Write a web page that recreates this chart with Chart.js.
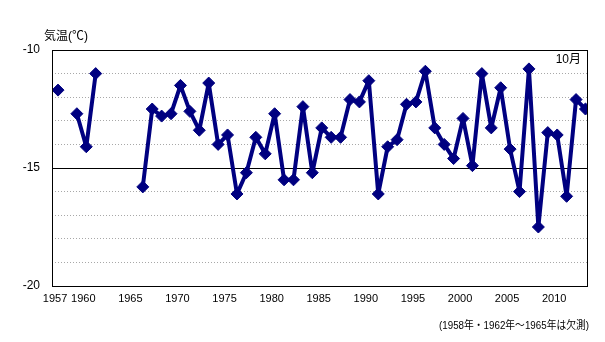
<!DOCTYPE html>
<html>
<head>
<meta charset="utf-8">
<script src="https://cdn.jsdelivr.net/npm/chart.js@4/dist/chart.umd.min.js"></script>
<style>
  html, body { margin: 0; padding: 0; background: #fff; }
  #wrap { width: 605px; height: 342px; position: relative; }
</style>
</head>
<body>
<div id="wrap"><canvas id="c" width="605" height="342"></canvas></div>
<script>
// October mean temperature (°C), 1957–2013; null = no observation
const years = [
  1957, 1958, 1959, 1960, 1961, 1962, 1963, 1964, 1965, 1966,
  1967, 1968, 1969, 1970, 1971, 1972, 1973, 1974, 1975, 1976,
  1977, 1978, 1979, 1980, 1981, 1982, 1983, 1984, 1985, 1986,
  1987, 1988, 1989, 1990, 1991, 1992, 1993, 1994, 1995, 1996,
  1997, 1998, 1999, 2000, 2001, 2002, 2003, 2004, 2005, 2006,
  2007, 2008, 2009, 2010, 2011, 2012, 2013
];
const temps = [
  -11.7, null, -12.7, -14.1, -11.0, null, null, null, null, -15.8,
  -12.5, -12.8, -12.7, -11.5, -12.6, -13.4, -11.4, -14.0, -13.6, -16.1,
  -15.2, -13.7, -14.4, -12.7, -15.5, -15.5, -12.4, -15.2, -13.3, -13.7,
  -13.7, -12.1, -12.2, -11.3, -16.1, -14.1, -13.8, -12.3, -12.2, -10.9,
  -13.3, -14.0, -14.6, -12.9, -14.9, -11.0, -13.3, -11.6, -14.2, -16.0,
  -10.8, -17.5, -13.5, -13.6, -16.2, -12.1, -12.5
];
const xTickYears = [1957, 1960, 1965, 1970, 1975, 1980, 1985, 1990, 1995, 2000, 2005, 2010];
const yTickValues = [-10, -15, -20];
const yAxisTitle = '気温(℃)';
const monthLabel = '10月';
const noteText = '(1958年・1962年～1965年は欠測)';

const NAVY = '#000080';
const FONT_FAMILY = "'Liberation Sans', 'Noto Sans CJK JP', sans-serif";

// frame around the plot area plus the free-standing texts
const decorations = {
  id: 'decorations',
  afterDraw(chart) {
    const { ctx, chartArea: a } = chart;
    ctx.save();
    ctx.strokeStyle = '#000';
    ctx.lineWidth = 1;
    ctx.strokeRect(Math.round(a.left) + 0.5, Math.round(a.top) + 0.5,
                   Math.round(a.right - a.left) - 1, Math.round(a.bottom - a.top));
    ctx.fillStyle = '#000';
    ctx.textBaseline = 'middle';
    ctx.font = "12px " + FONT_FAMILY;
    ctx.textAlign = 'left';
    ctx.fillText(yAxisTitle, 44, 37);
    ctx.textAlign = 'right';
    ctx.fillText(monthLabel, a.right - 7, 60);
    ctx.font = "11px " + FONT_FAMILY;
    ctx.fillText(noteText, 589, 326, 150);
    ctx.restore();
  }
};

new Chart(document.getElementById('c'), {
  type: 'line',
  data: {
    datasets: [{
      data: years.map((y, i) => ({ x: y, y: temps[i] })),
      borderColor: NAVY,
      backgroundColor: NAVY,
      borderWidth: 4,
      borderJoinStyle: 'round',
      borderCapStyle: 'round',
      pointStyle: 'rectRot',
      pointRadius: 6,
      pointBorderWidth: 1,
      pointBorderColor: NAVY,
      pointBackgroundColor: NAVY,
      tension: 0,
      spanGaps: false
    }]
  },
  options: {
    responsive: false,
    animation: false,
    devicePixelRatio: 1,
    layout: { padding: { top: 50, right: 17, left: 0, bottom: 0 } },
    plugins: { legend: { display: false }, tooltip: { enabled: false } },
    scales: {
      x: {
        type: 'linear',
        min: 1956.36,
        max: 2013.27,
        afterBuildTicks: (scale) => { scale.ticks = xTickYears.map(v => ({ value: v })); },
        afterFit: (scale) => { scale.height = 56; },
        grid: { display: false, drawTicks: false },
        border: { display: false },
        ticks: {
          autoSkip: false,
          maxRotation: 0,
          padding: 6,
          labelOffset: -3,
          color: '#000',
          font: { family: FONT_FAMILY, size: 11 },
          callback: (v) => String(v)
        }
      },
      y: {
        min: -20,
        max: -10,
        afterBuildTicks: (scale) => {
          const t = [];
          for (let v = -20; v <= -10; v++) t.push({ value: v });
          scale.ticks = t;
        },
        afterFit: (scale) => { scale.width = 52; },
        grid: {
          drawTicks: false,
          color: (c) => (c.tick && c.tick.value === -15) ? '#000' : '#a8a8a8',
          lineWidth: 1
        },
        border: {
          display: false,
          dash: (c) => (c.tick && c.tick.value === -15) ? [] : [1, 2]
        },
        ticks: {
          autoSkip: false,
          padding: 12,
          color: '#000',
          font: { family: FONT_FAMILY, size: 12 },
          callback: (v) => yTickValues.includes(v) ? String(v) : ''
        }
      }
    }
  },
  plugins: [decorations]
});
</script>
</body>
</html>
